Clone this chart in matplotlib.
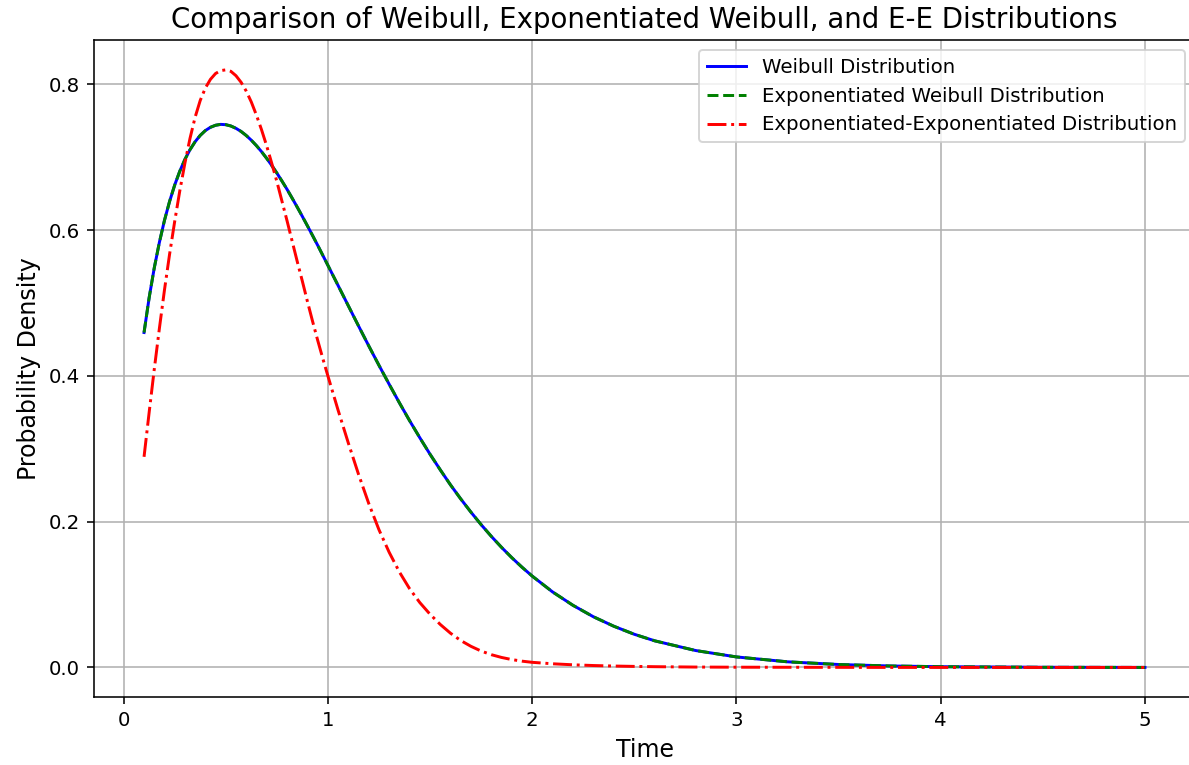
import matplotlib
matplotlib.use("Agg")
import matplotlib.pyplot as plt

# Time grid
time = [0.100, 0.125, 0.150, 0.175, 0.200, 0.225, 0.250, 0.275, 0.300, 0.325,
        0.350, 0.375, 0.400, 0.425, 0.450, 0.475, 0.500, 0.525, 0.550, 0.575,
        0.600, 0.625, 0.650, 0.675, 0.700, 0.725, 0.750, 0.775, 0.800, 0.825,
        0.850, 0.875, 0.900, 0.925, 0.950, 0.975, 1.00, 1.05,
        1.10, 1.15, 1.20, 1.25, 1.30, 1.35, 1.40, 1.45, 1.50, 1.55,
        1.60, 1.65, 1.70, 1.75, 1.80, 1.85, 1.90, 1.95, 2.00, 2.10,
        2.20, 2.30, 2.40, 2.50, 2.60, 2.80, 3.00, 3.25, 3.50, 3.75,
        4.00, 4.50, 5.00]

weibull_density = [0.4596, 0.5074, 0.5482, 0.5832, 0.6135, 0.6395, 0.6619, 0.6810, 0.6971, 0.7105,
                   0.7214, 0.7301, 0.7367, 0.7412, 0.7440, 0.7452, 0.7448, 0.7430, 0.7398, 0.7355,
                   0.7300, 0.7235, 0.7161, 0.7078, 0.6987, 0.6889, 0.6785, 0.6675, 0.6561, 0.6440,
                   0.6316, 0.6189, 0.6059, 0.5927, 0.5793, 0.5656, 0.5518, 0.5241,
                   0.4963, 0.4686, 0.4413, 0.4146, 0.3886, 0.3632, 0.3386, 0.3152, 0.2926, 0.2712,
                   0.2506, 0.2314, 0.2132, 0.1960, 0.1799, 0.1648, 0.1507, 0.1376, 0.1254, 0.1036,
                   0.0852, 0.0695, 0.0565, 0.0455, 0.0365, 0.0232, 0.0144, 0.0077, 0.0040, 0.0020,
                   0.0010, 0.0002, 0.0000]

exp_weibull_density = [0.4596, 0.5074, 0.5482, 0.5832, 0.6135, 0.6395, 0.6619, 0.6810, 0.6971, 0.7105,
                       0.7214, 0.7301, 0.7367, 0.7412, 0.7440, 0.7452, 0.7448, 0.7430, 0.7398, 0.7355,
                       0.7300, 0.7235, 0.7161, 0.7078, 0.6987, 0.6889, 0.6785, 0.6675, 0.6561, 0.6440,
                       0.6316, 0.6189, 0.6059, 0.5927, 0.5793, 0.5656, 0.5518, 0.5241,
                       0.4963, 0.4686, 0.4413, 0.4146, 0.3886, 0.3632, 0.3386, 0.3152, 0.2926, 0.2712,
                       0.2506, 0.2314, 0.2132, 0.1960, 0.1799, 0.1648, 0.1507, 0.1376, 0.1254, 0.1036,
                       0.0852, 0.0695, 0.0565, 0.0455, 0.0365, 0.0232, 0.0144, 0.0077, 0.0040, 0.0020,
                       0.0010, 0.0002, 0.0000]

ee_density = [0.289, 0.350, 0.409, 0.465, 0.518, 0.567, 0.612, 0.654, 0.692, 0.726,
              0.755, 0.778, 0.795, 0.807, 0.815, 0.819, 0.820, 0.818, 0.812, 0.803,
              0.791, 0.776, 0.758, 0.738, 0.716, 0.692, 0.667, 0.640, 0.613, 0.585,
              0.557, 0.530, 0.502, 0.475, 0.449, 0.424, 0.400, 0.353,
              0.308, 0.265, 0.225, 0.189, 0.158, 0.131, 0.108, 0.089, 0.073, 0.059,
              0.047, 0.037, 0.029, 0.0225, 0.0175, 0.0137, 0.0108, 0.0086, 0.0070, 0.0050,
              0.0036, 0.0026, 0.0019, 0.0014, 0.0010, 0.0005, 0.0003, 0.0002, 0.0001, 0.0000,
              0.0000, 0.0000, 0.0000]

labels = ["Weibull Distribution",
          "Exponentiated Weibull Distribution",
          "Exponentiated-Exponentiated Distribution"]

DPI = 142
fig = plt.figure(figsize=(1189 / DPI, 765 / DPI), dpi=DPI)
ax = fig.add_axes([94 / 1189, 1 - 697.3 / 765, (1195 - 94) / 1189, (697.3 - 40) / 765])

ax.plot(time, weibull_density, color="blue", linestyle="-", label=labels[0])
ax.plot(time, exp_weibull_density, color="green", linestyle="--", label=labels[1])
ax.plot(time, ee_density, color="red", linestyle="-.", label=labels[2])

ax.set_title("Comparison of Weibull, Exponentiated Weibull, and E-E Distributions", fontsize=14)
ax.set_xlabel("Time", fontsize=12)
ax.set_ylabel("Probability Density", fontsize=12)
ax.legend(loc="upper right")
ax.grid(True)

fig.savefig("out.png", dpi=DPI)
